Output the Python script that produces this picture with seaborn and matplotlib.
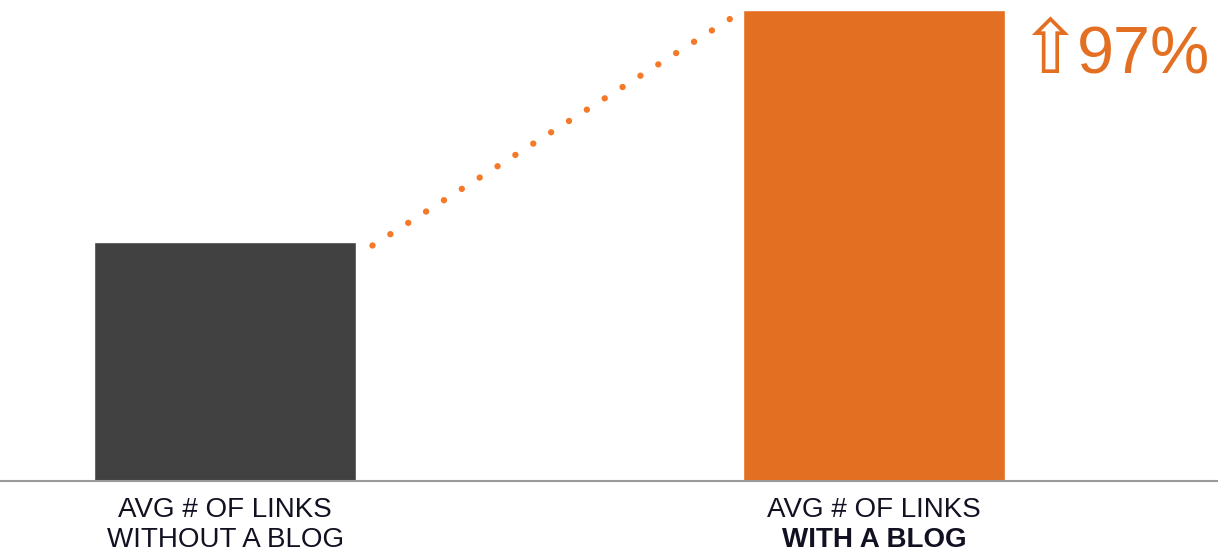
import matplotlib
matplotlib.use("Agg")
import matplotlib.pyplot as plt
import matplotlib.transforms as mtransforms
import seaborn as sns
import pandas as pd

# Average number of inbound links, indexed so that "without a blog" = 1
categories = ["without", "with"]
avg_links = [1.0, 1.97]
label_line1 = ["AVG # OF LINKS", "AVG # OF LINKS"]
label_line2 = ["WITHOUT A BLOG", "WITH A BLOG"]
label_weight2 = ["normal", "bold"]
increase_text = "97%"

bar_colors = ["#414141", "#E36F22"]
accent = "#E36F22"

sns.set_theme(style="white")
plt.rcParams["font.family"] = ["Liberation Sans", "DejaVu Sans"]

fig = plt.figure(figsize=(12.18, 5.52), dpi=100)
ax = fig.add_axes([0.0, 0.1286, 1.0, 0.8714])

df = pd.DataFrame({"category": categories, "links": avg_links})
bar_width = 0.404
sns.barplot(data=df, x="category", y="links", hue="category", order=categories,
            hue_order=categories, palette=bar_colors, width=bar_width,
            legend=False, saturation=1, ax=ax)

ax.set_xlim(-0.347, 1.53)
ax.set_ylim(0, avg_links[1] * 481 / 471)

# dotted connector rising from the first bar towards the top of the second
half = bar_width / 2
ax.plot([0 + half + 0.025, 1 - half - 0.004], [avg_links[0] - 0.015, avg_links[1] * 0.995],
        color="#F47A2A", lw=4.6, linestyle=(0, (0.01, 3.3)),
        dash_capstyle="round", zorder=3)

# category labels below the baseline
trans = mtransforms.blended_transform_factory(ax.transData, ax.transAxes)
for i in range(len(categories)):
    ax.text(i, -0.033, label_line1[i], transform=trans, ha="center", va="top",
            fontsize=20, color="#111122")
    ax.text(i, -0.096, label_line2[i], transform=trans, ha="center", va="top",
            fontsize=20, color="#111122", fontweight=label_weight2[i])

# percentage increase callout: outlined up-arrow followed by the figure
ax.text(1.222, 1.706, "\u21e7", ha="left", va="baseline", fontsize=54,
        color=accent, family=["DejaVu Sans"])
ax.text(1.312, 1.706, increase_text, ha="left", va="baseline", fontsize=48,
        color=accent, family=["Liberation Sans"])

ax.set_xticks([])
ax.set_yticks([])
ax.set_xlabel("")
ax.set_ylabel("")
for side in ["top", "left", "right"]:
    ax.spines[side].set_visible(False)
ax.spines["bottom"].set_color("#9a9a9a")
ax.spines["bottom"].set_linewidth(1.5)

fig.savefig("out.png", dpi=100, facecolor="white")
